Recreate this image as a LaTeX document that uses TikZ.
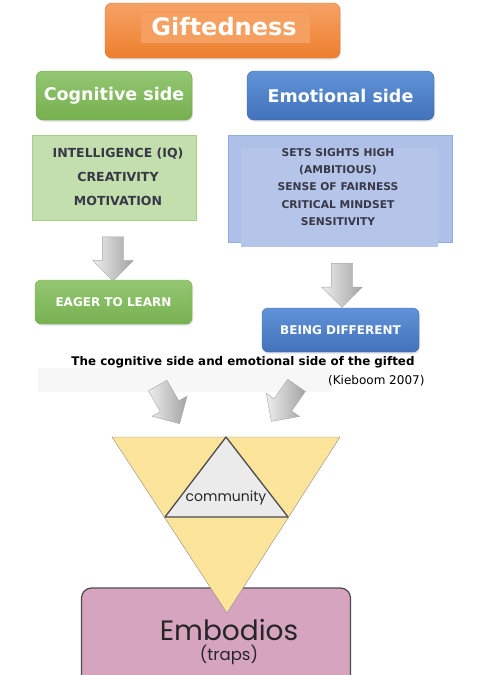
\documentclass[tikz,border=0pt]{standalone}
\usepackage{fontspec}
\setmainfont{DejaVu Sans}
\newfontfamily\roundfont{Poppins}
\usetikzlibrary{shapes.arrows,shadows}

\definecolor{orangetop}{HTML}{F6A266}
\definecolor{orangebot}{HTML}{EE7F2E}
\definecolor{greentop}{HTML}{93C672}
\definecolor{greenbot}{HTML}{76B04F}
\definecolor{bluetop}{HTML}{6193D8}
\definecolor{bluebot}{HTML}{4272BB}
\definecolor{lightgreen}{HTML}{C3DFAE}
\definecolor{lightblue}{HTML}{AEC0E7}
\definecolor{darktext}{HTML}{383846}
\definecolor{trianglefill}{HTML}{FDE49B}
\definecolor{communityfill}{HTML}{EBEBEB}
\definecolor{trapfill}{HTML}{D6A4BF}

\begin{document}
\begin{tikzpicture}[x=1pt,y=-1pt,
    header/.style={rounded corners=7pt, text=white, font=\bfseries,
      drop shadow={opacity=.25, shadow xshift=1pt, shadow yshift=-1.5pt}},
    listbox/.style={inner sep=0pt},
    grayarrow/.style={single arrow, inner xsep=0pt, inner ysep=10.5pt,
      single arrow head extend=9.5pt, minimum height=44pt,
      draw=black!35, left color=black!7, right color=black!36}]

  \path[use as bounding box] (0,0) rectangle (484,675);
  \clip (0,0) rectangle (484,675);

  % top box
  \node[header, top color=orangetop, bottom color=orangebot, draw=orangebot!90!black,
    minimum width=235pt, minimum height=55pt] (gift) at (222.5,30.5) {};
  \fill[orangetop!92!orangebot] (141,13) rectangle (310,43);
  \node[text=white, font=\bfseries\fontsize{24}{28}\selectfont] (gifttext) at (224,27) {Giftedness};

  % the two sides
  \node[header, top color=greentop, bottom color=greenbot, draw=greenbot!90!black,
    minimum width=156pt, minimum height=49pt, font=\bfseries\fontsize{17.5}{20}\selectfont]
    (cog) at (114,95.5) {Cognitive side};
  \node[header, top color=bluetop, bottom color=bluebot, draw=bluebot!90!black,
    minimum width=187pt, minimum height=49pt, font=\bfseries\fontsize{17.5}{20}\selectfont]
    (emo) at (340.5,95.5) {Emotional side};

  \node[listbox, fill=lightgreen, draw=greentop!60!lightgreen,
    minimum width=164pt, minimum height=85pt] (coglist) at (114,177.5) {};
  \node[align=center, text=darktext, font=\bfseries\fontsize{12.5}{24}\selectfont]
    (cogtext) at (118,177) {INTELLIGENCE (IQ)\\CREATIVITY\\MOTIVATION};

  \node[listbox, fill=lightblue, draw=bluetop!40!lightblue,
    minimum width=224pt, minimum height=107pt] (emolist) at (340,188.5) {};
  \fill[lightblue!92!white] (241,148) rectangle (438,247);
  \node[align=center, text=darktext, font=\bfseries\fontsize{10.7}{17.2}\selectfont]
    (emotext) at (338,187) {SETS SIGHTS HIGH\\(AMBITIOUS)\\SENSE OF FAIRNESS\\CRITICAL MINDSET\\SENSITIVITY};

  \node[grayarrow, rotate=-90] (arrowcog) at (113,253.5) {};
  \node[grayarrow, rotate=-90] (arrowemo) at (342,280) {};

  \node[header, rounded corners=6pt, top color=greentop, bottom color=greenbot!95!greentop, draw=greenbot,
    minimum width=157pt, minimum height=44pt, font=\bfseries\fontsize{12}{14}\selectfont]
    (eager) at (113.5,302) {EAGER TO LEARN};
  \node[header, rounded corners=6pt, top color=bluetop, bottom color=bluebot, draw=bluebot,
    minimum width=157pt, minimum height=44pt, font=\bfseries\fontsize{12}{14}\selectfont]
    (different) at (340.5,330) {BEING DIFFERENT};

  % caption
  \fill[black!3] (38,368) rectangle (330,392);
  \node[font=\bfseries\fontsize{11.9}{14}\selectfont] (caption) at (243,362)
    {The cognitive side and emotional side of the gifted};
  \node[anchor=east, font=\fontsize{12}{14}\selectfont] (source) at (428,381) {(Kieboom 2007)};

  \node[grayarrow, rotate=-60] (arrowleft) at (166,400) {};
  \node[grayarrow, rotate=-125] (arrowright) at (287,399) {};

  % trap box
  \node[draw=black!70, line width=1.2pt, fill=trapfill, rounded corners=10pt,
    minimum width=269pt, minimum height=120pt] (trapbox) at (216,648) {};
  \node[font=\roundfont\fontsize{28}{30}\selectfont, text=black!85] (emb) at (229,630) {Embodios};
  \node[font=\roundfont\fontsize{16.5}{18}\selectfont, text=black!85] (traps) at (229,655) {(traps)};

  % triangle
  \coordinate (tl) at (112,437);
  \coordinate (tm) at (226,437);
  \coordinate (tr) at (340,437);
  \coordinate (ml) at (165,517);
  \coordinate (mr) at (288,517);
  \coordinate (tip) at (227,613);
  \filldraw[fill=trianglefill, draw=black!45, line width=.4pt] (tl) -- (tr) -- (tip) -- cycle;
  \filldraw[fill=communityfill, draw=black!70, line width=1.3pt, line join=round]
    (tm) -- (ml) -- (mr) -- cycle;
  \node[font=\roundfont\fontsize{14}{16}\selectfont, text=black!85] (community) at (226,498) {community};

\end{tikzpicture}
\end{document}
